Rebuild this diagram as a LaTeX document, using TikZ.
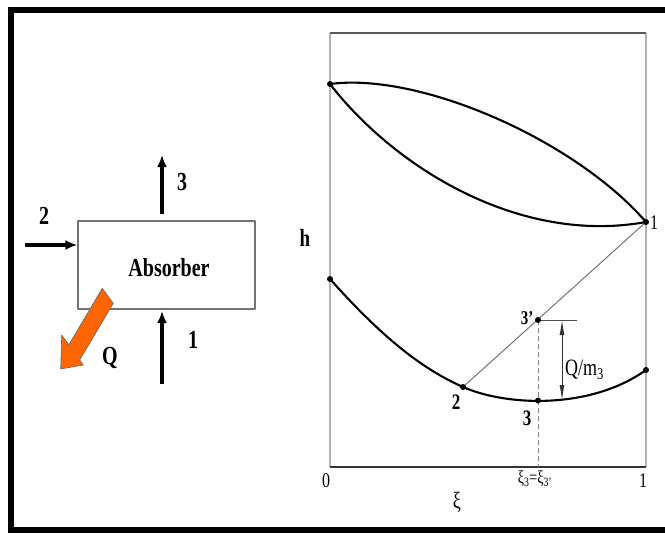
\documentclass[tikz,border=0pt]{standalone}
\usepackage{fontspec}
\setmainfont{Liberation Serif}
\usepackage{graphicx}
\usepackage{tikz}
\usetikzlibrary{arrows.meta}
\definecolor{qorange}{HTML}{FF6600}
\newcommand{\vtxt}[1]{\scalebox{1}[1.3]{#1}}
\tikzset{
  every picture/.style={line join=round, >=Stealth},
  lbl/.style={font=\bfseries\fontsize{20}{24}\selectfont, inner sep=0pt},
  clbl/.style={font=\bfseries\fontsize{17}{20}\selectfont, inner sep=0pt},
  nlbl/.style={font=\fontsize{16}{19}\selectfont, inner sep=0pt},
  flow/.style={line width=3.2pt, -{Latex[length=12pt,width=10pt]}},
  unitbox/.style={draw=black!55, line width=1.2pt, minimum width=177pt, minimum height=88pt, inner sep=0pt},
  dot/.style={circle, fill, inner sep=0pt, minimum size=6pt},
  curve/.style={line width=2.1pt},
  sideline/.style={black!30, line width=1.5pt},
}
\begin{document}
\begin{tikzpicture}[x=1pt,y=-1pt]
\useasboundingbox (0,0) rectangle (665,536);
\draw[line width=6pt, line join=miter] (665,10)--(11,10)--(11,530)--(665,530);

\node[unitbox] (abs) at (166.5,265) {};
\node[lbl] (abstxt) at (169,268) {\vtxt{Absorber}};
\coordinate (in2) at (25,245);
\coordinate (s3) at (162,214);
\coordinate (out3) at (162,155);
\coordinate (in1) at (162,384);
\coordinate (e1) at (162,311);
\draw[flow] (in2)--(in2 -| abs.west);
\draw[flow] (s3)--(out3);
\draw[flow] (in1)--(e1);
\node[lbl] (l2) at (44,216) {\vtxt{2}};
\node[lbl] (l3) at (182,182) {\vtxt{3}};
\node[lbl] (l1) at (193,340) {\vtxt{1}};
\node[lbl] (lq) at (110,358) {\vtxt{Q}};
\filldraw[fill=qorange, draw=black!60, line width=0.6pt] (102.3,288.3)--(113.3,303.3)--(79.7,360)--(83.3,365)--(60.7,369)--(61.7,335)--(68.8,344.8)--cycle;

\coordinate (o) at (330,467);
\coordinate (xe) at (646,467);
\coordinate (tl) at (330,33);
\coordinate (tr) at (646,33);
\coordinate (pA) at (330,84);
\coordinate (p1) at (646,222);
\coordinate (pB) at (330,279);
\coordinate (p2) at (463,387);
\coordinate (p3) at (538,400.5);
\coordinate (p3p) at (538,320);
\coordinate (pC) at (646,370);
\coordinate (tk) at (577,320);
\coordinate (qa) at (562,320);
\coordinate (qb) at (562,400);
\draw[sideline] (o)--(tl);
\draw[sideline] (xe)--(tr);
\draw[black!65, line width=1.5pt] (tl)--(tr);
\draw[black!80, line width=1.1pt] (o)--(xe);

\draw[curve] (pA) .. controls (420,72) and (575,140) .. (p1);
\draw[curve] (pA) .. controls (395,168) and (520,245) .. (p1);
\draw[curve] (pB) .. controls (380,335) and (420,368) .. (p2) .. controls (506,406) and (590,410) .. (pC);
\draw[black!55, line width=1pt] (p2)--(p1);
\draw[black!50, line width=1pt, dash pattern=on 5pt off 3pt] (p3p)--(p3p |- o);
\draw[black!70, line width=0.9pt] (p3p)--(tk);
\draw[black!80, line width=0.9pt, {Latex[length=15pt,width=5pt]}-{Latex[length=15pt,width=5pt]}] (qa)--(qb);
\foreach \p in {pA,p1,pB,p2,p3,p3p,pC}
  \node[dot] (d\p) at (\p) {};

\node[nlbl, font=\fontsize{19}{22}\selectfont\bfseries] (h) at (305,238) {\vtxt{h}};
\node[nlbl] (x0) at (326,481) {\vtxt{0}};
\node[nlbl] (x1) at (643,481) {\vtxt{1}};
\node[nlbl, font=\fontsize{18}{21}\selectfont] (xi) at (457,502) {\vtxt{ξ}};
\node[nlbl, font=\fontsize{14}{17}\selectfont] (xi3) at (535,479) {\vtxt{ξ\textsubscript{3}=ξ\textsubscript{3'}}};
\node[nlbl] (n1) at (654,223) {\vtxt{1}};
\node[clbl] (n2) at (456,402) {\vtxt{2}};
\node[clbl] (n3) at (527,418) {\vtxt{3}};
\node[clbl, font=\bfseries\fontsize{15}{18}\selectfont] (n3p) at (527,318) {\vtxt{3'}};
\node[nlbl, font=\fontsize{18}{21}\selectfont, anchor=west] (qm) at (565,370) {\vtxt{Q/m\textsubscript{3}}};
\end{tikzpicture}
\end{document}
